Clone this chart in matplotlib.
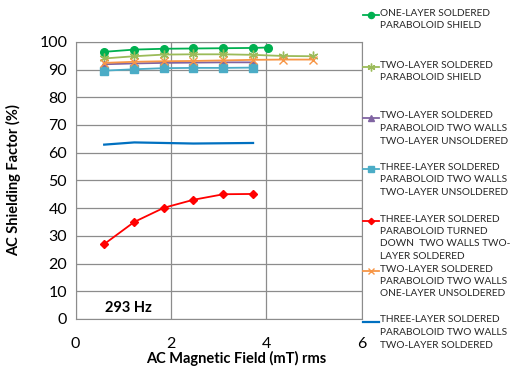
import matplotlib.pyplot as plt
from matplotlib.lines import Line2D

plt.rcParams['font.family'] = ['Lato', 'DejaVu Sans']

# data
x6 = [0.6, 1.23, 1.85, 2.47, 3.1, 3.72]
x7 = [0.6, 1.23, 1.85, 2.47, 3.1, 3.72, 4.03]
x8 = [0.6, 1.23, 1.85, 2.47, 3.1, 3.72, 4.35, 4.97]

one_layer = [96.4, 97.2, 97.5, 97.6, 97.7, 97.8, 97.95]
two_layer = [94.0, 94.8, 95.4, 95.5, 95.5, 95.3, 94.9, 94.8]
two_walls_two_uns = [91.9, 92.2, 92.4, 92.5, 92.6, 92.6]
three_walls_two_uns = [89.6, 90.1, 90.5, 90.6, 90.6, 90.7]
turned_down = [27.0, 35.0, 40.1, 43.0, 45.0, 45.1]
two_walls_one_uns = [92.4, 92.8, 93.0, 93.1, 93.3, 93.5, 93.6, 93.6]
three_walls_two_sol = [62.9, 63.7, 63.5, 63.3, 63.4, 63.5]

labels = [
    "ONE-LAYER SOLDERED\nPARABOLOID SHIELD",
    "TWO-LAYER SOLDERED\nPARABOLOID SHIELD",
    "TWO-LAYER SOLDERED\nPARABOLOID TWO WALLS\nTWO-LAYER UNSOLDERED",
    "THREE-LAYER SOLDERED\nPARABOLOID TWO WALLS\nTWO-LAYER UNSOLDERED",
    "THREE-LAYER SOLDERED\nPARABOLOID TURNED\nDOWN  TWO WALLS TWO-\nLAYER SOLDERED",
    "TWO-LAYER SOLDERED\nPARABOLOID TWO WALLS\nONE-LAYER UNSOLDERED",
    "THREE-LAYER SOLDERED\nPARABOLOID TWO WALLS\nTWO-LAYER SOLDERED",
]

fig = plt.figure(figsize=(5.14, 3.67), dpi=100)
ax = fig.add_axes([0.147, 0.131, 0.557, 0.755])

lines = []
lines += ax.plot(x7, one_layer, color='#00B050', marker='o', ms=5.5, lw=1.3)
lines += ax.plot(x8, two_layer, color='#9BBB59', marker=(6, 2, 0), ms=7, mew=1, lw=1.3)
lines += ax.plot(x6, two_walls_two_uns, color='#8064A2', marker='^', ms=5, lw=1.3)
lines += ax.plot(x6, three_walls_two_uns, color='#4BACC6', marker='s', ms=5.5, lw=1.3)
lines += ax.plot(x6, turned_down, color='#FF0000', marker='D', ms=4, lw=1.3)
lines += ax.plot(x8, two_walls_one_uns, color='#F79646', marker='x', ms=6, mew=1, lw=1.3)
lines += ax.plot(x6, three_walls_two_sol, color='#0070C0', lw=1.6)

ax.set_xlim(0, 6)
ax.set_ylim(0, 100)
ax.set_xticks([0, 2, 4, 6])
ax.set_yticks(range(0, 101, 10))
ax.grid(True, color='#8c8c8c', lw=0.9)
for s in ax.spines.values():
    s.set_color('#8c8c8c')
ax.tick_params(length=0, labelsize=11.5)
ax.tick_params(axis='x', pad=13)
ax.tick_params(axis='y', pad=6)
ax.set_xlabel("AC Magnetic Field (mT) rms", fontsize=10.5, fontweight='bold')
ax.xaxis.set_label_coords(0.56, -0.117)
ax.set_ylabel("AC Shielding Factor (%)", fontsize=10.5, fontweight='bold')
ax.yaxis.set_label_coords(-0.19, 0.5)
ax.text(0.61, 4, "293 Hz", fontsize=10.5, fontweight='bold', va='center')

# manual legend on the right
ys = [15, 67, 118, 169, 221, 271, 322]
for ln, lab, yp in zip(lines, labels, ys):
    fy = 1 - yp / 367
    h = Line2D([363 / 514, 379 / 514], [fy, fy], transform=fig.transFigure,
               color=ln.get_color(), lw=ln.get_linewidth())
    fig.add_artist(h)
    if ln.get_marker() not in ('None', None, ''):
        m = Line2D([371 / 514], [fy], transform=fig.transFigure, color=ln.get_color(),
                   marker=ln.get_marker(), ms=ln.get_markersize() * 0.8,
                   mew=ln.get_markeredgewidth(), lw=0)
        fig.add_artist(m)
    fig.text(380 / 514, fy + 6.5 / 367, lab, fontsize=7.3, va='top', ha='left',
             linespacing=1.5, color='#262626')

fig.savefig("out.png", dpi=100)
